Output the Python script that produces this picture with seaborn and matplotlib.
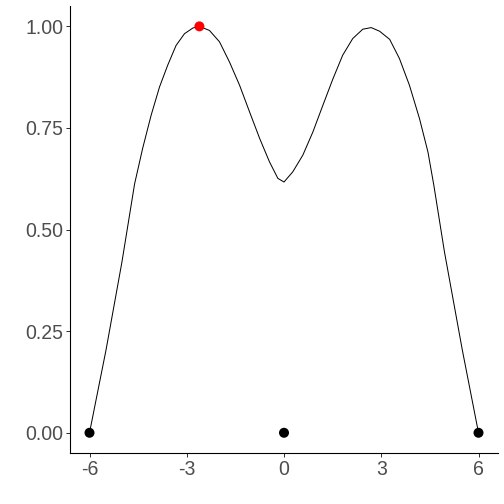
import matplotlib
matplotlib.use("Agg")
import matplotlib.pyplot as plt
import seaborn as sns
import pandas as pd

# curve (x, scaled density)
curve_x = [-6.0, -5.49, -5.0, -4.61, -4.36, -4.10, -3.84, -3.59, -3.33, -3.07, -2.81, -2.61,
           -2.30, -1.99, -1.68, -1.37, -1.06, -0.75, -0.45, -0.19, 0.0,
           0.27, 0.58, 0.89, 1.20, 1.51, 1.81, 2.12, 2.43, 2.69, 2.95, 3.26, 3.56, 3.87,
           4.18, 4.44, 4.62, 4.95, 5.5, 6.0]
curve_y = [0.0, 0.204, 0.420, 0.612, 0.700, 0.781, 0.851, 0.904, 0.953, 0.982, 0.996, 1.0,
           0.990, 0.962, 0.912, 0.855, 0.789, 0.724, 0.667, 0.626, 0.617,
           0.642, 0.683, 0.740, 0.806, 0.871, 0.929, 0.970, 0.993, 0.997, 0.988, 0.968, 0.921, 0.855,
           0.773, 0.691, 0.610, 0.445, 0.204, 0.0]

# marked points
pts_x = [-6, 0, 6]
pts_y = [0, 0, 0]
peak_x = [-2.61]
peak_y = [1.0]

x_ticks = [-6, -3, 0, 3, 6]
y_ticks = [0.0, 0.25, 0.50, 0.75, 1.00]
y_labels = ["0.00", "0.25", "0.50", "0.75", "1.00"]

sns.set_theme(style="ticks")
plt.rcParams["font.family"] = ["Liberation Sans", "DejaVu Sans"]

fig = plt.figure(figsize=(7, 7), dpi=72)
ax = fig.add_axes([0.139, 0.101, 0.849, 0.887])

curve = pd.DataFrame({"x": curve_x, "y": curve_y})
sns.lineplot(data=curve, x="x", y="y", color="black", linewidth=1.0, ax=ax)
sns.scatterplot(x=pts_x, y=pts_y, color="black", s=100, edgecolor="none", ax=ax, zorder=3)
sns.scatterplot(x=peak_x, y=peak_y, color="red", s=100, edgecolor="none", ax=ax, zorder=3)

ax.set_xlim(-6.6, 6.6)
ax.set_ylim(-0.05, 1.05)
ax.set_xticks(x_ticks)
ax.set_xticklabels([str(t) for t in x_ticks])
ax.set_yticks(y_ticks)
ax.set_yticklabels(y_labels)
ax.set_xlabel("")
ax.set_ylabel("")
ax.tick_params(labelsize=19.5, labelcolor="#4D4D4D", color="#333333", length=4, width=1, pad=3)
for side in ["top", "right"]:
    ax.spines[side].set_visible(False)
for side in ["left", "bottom"]:
    ax.spines[side].set_color("black")
    ax.spines[side].set_linewidth(1.1)

fig.savefig("out.png", dpi=72)
